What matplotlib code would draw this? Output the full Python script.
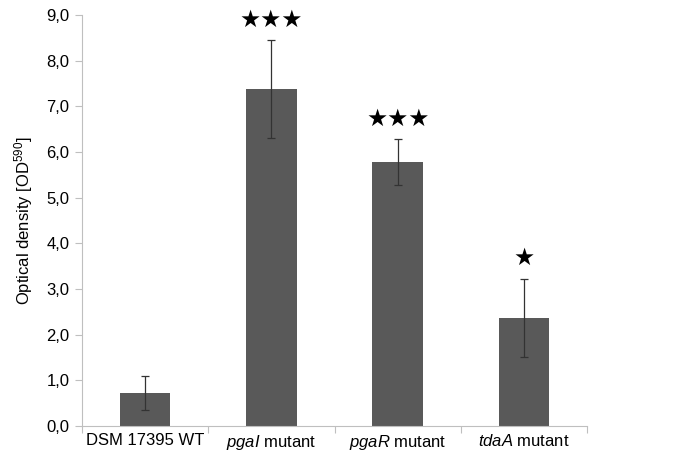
import matplotlib.pyplot as plt
import numpy as np

# data
labels = ["DSM 17395 WT", "pgaI mutant", "pgaR mutant", "tdaA mutant"]
italic_part = ["", "pgaI", "pgaR", "tdaA"]
values = [0.72, 7.38, 5.78, 2.37]
errors = [0.38, 1.08, 0.50, 0.86]
stars = ["", "★★★", "★★★", "★"]
yticks = np.arange(0, 9.1, 1.0)

plt.rcParams["font.family"] = ["Liberation Sans", "DejaVu Sans"]
plt.rcParams["mathtext.fontset"] = "custom"
plt.rcParams["mathtext.it"] = "Liberation Sans:italic"
plt.rcParams["mathtext.rm"] = "Liberation Sans"

fig = plt.figure(figsize=(6.74, 4.59), dpi=100)
ax = fig.add_axes([0.1217, 0.0719, 0.7493, 0.8951])

x = np.arange(len(values))
ax.bar(x, values, width=0.4, color="#595959", zorder=2)
ax.errorbar(x, values, yerr=errors, fmt="none", ecolor="#333333",
            elinewidth=0.9, capsize=3, capthick=0.9, zorder=3)

for xi, v, e, s in zip(x, values, errors, stars):
    if s:
        ax.text(xi, v + e + 0.18, s, ha="center", va="bottom", fontsize=17,
                family=["DejaVu Sans"], color="black")

ax.set_xlim(-0.5, len(values) - 0.5)
ax.set_ylim(0, 9)
ax.set_yticks(yticks)
ax.set_yticklabels([f"{t:.1f}".replace(".", ",") for t in yticks], fontsize=12)

# category ticks between groups
ax.set_xticks(np.arange(-0.5, len(values), 1.0))
ax.set_xticklabels([])
ax.tick_params(axis="x", length=5, color="#bfbfbf")
ax.tick_params(axis="y", length=5, color="#bfbfbf", pad=4)

for xi, lab, it in zip(x, labels, italic_part):
    if it:
        rest = lab[len(it):]
        txt = r"$\mathit{" + it + "}$" + rest
    else:
        txt = lab
    ax.text(xi, -0.15, txt, ha="center", va="top", fontsize=12)

ax.set_ylabel("Optical density [OD$^{590}$]", fontsize=12, labelpad=8)

for side in ["top", "right"]:
    ax.spines[side].set_visible(False)
for side in ["left", "bottom"]:
    ax.spines[side].set_color("#bfbfbf")

fig.savefig("out.png", dpi=100)
